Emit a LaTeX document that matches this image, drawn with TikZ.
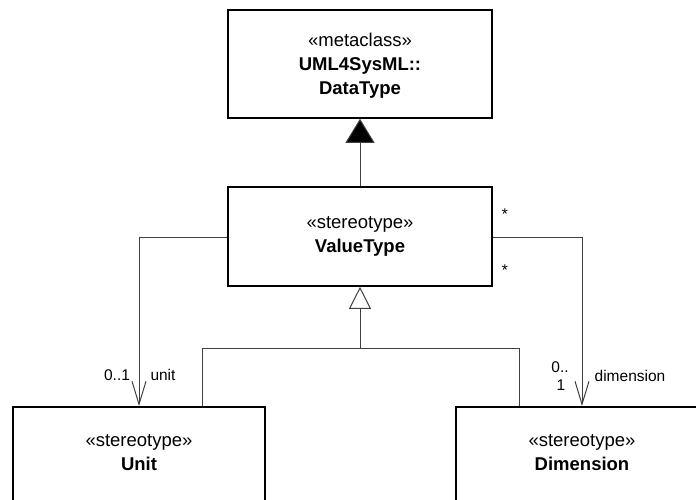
\documentclass[tikz,border=0pt]{standalone}
\usepackage{fontspec}
\setmainfont{Liberation Sans}
\usetikzlibrary{arrows.meta}
\begin{document}
\begin{tikzpicture}[x=1pt,y=-1pt,
  box/.style={draw=black, line width=1.6pt, fill=white, rectangle, inner sep=0pt},
  txt/.style={align=center, font=\fontsize{18.5}{24}\selectfont, inner sep=0pt},
  lbl/.style={font=\fontsize{15.5}{18}\selectfont, inner sep=0pt},
  conn/.style={draw=black!75, line width=1pt},
  genfill/.style={-{Triangle[length=24pt,width=29pt,fill=black]}},
  genopen/.style={-{Triangle[open,length=22pt,width=22pt,fill=white]}},
  assoc/.style={-{Straight Barb[length=23pt,width=14pt]}}
]
\useasboundingbox (0,0) rectangle (696,500);
\fill[white] (0,0) rectangle (696,500);

% boxes
\node[box, minimum width=264pt, minimum height=108pt] (dt) at (360,64) {};
\node[txt] (dttext) at (360,66) {«metaclass»\\\textbf{UML4SysML::}\\\textbf{DataType}};
\node[box, minimum width=264pt, minimum height=99pt] (vt) at (360,236.5) {};
\node[txt] (vttext) at (360,236.5) {«stereotype»\\\textbf{ValueType}};
\node[box, minimum width=252pt, minimum height=120pt, anchor=north] (unit) at (139,406) {};
\node[txt] (unittext) at (139,452.5) {«stereotype»\\\textbf{Unit}};
\node[box, minimum width=252pt, minimum height=120pt, anchor=north] (dim) at (582,406) {};
\node[txt] (dimtext) at (582,452.5) {«stereotype»\\\textbf{Dimension}};

% generalization ValueType -> DataType
\draw[conn, genfill] (vt.north) -- (dt.south);

% generalization Unit/Dimension -> ValueType
\coordinate (jl) at (202,348);
\coordinate (jr) at (519,348);
\coordinate (jm) at (360,348);
\draw[conn] (jl |- unit.north) -- (jl) -- (jr) -- (jr |- dim.north);
\draw[conn, genopen] (jm) -- (vt.south);

% associations
\coordinate (au) at (139,237);
\coordinate (ad) at (582,237);
\draw[conn, assoc] (vt.west |- au) -- (au) -- (unit.north);
\draw[conn, assoc] (vt.east |- ad) -- (ad) -- (dim.north);

% labels
\node[lbl] (l01) at (117,375) {0..1};
\node[lbl] (lunit) at (163,375) {unit};
\node[lbl] (l0dd) at (560,367) {0..};
\node[lbl] (l1) at (561,385) {1};
\node[lbl] (ldim) at (630,376) {dimension};
\node[lbl] (s1) at (505,214) {*};
\node[lbl] (s2) at (505,270) {*};
\end{tikzpicture}
\end{document}
